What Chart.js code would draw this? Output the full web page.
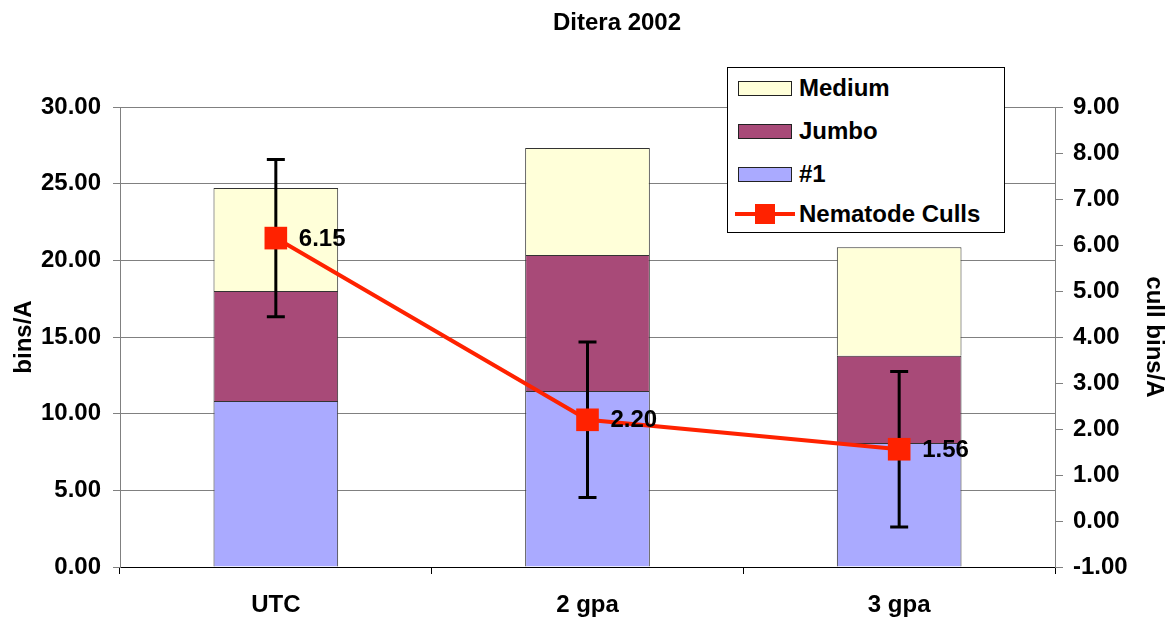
<!DOCTYPE html>
<html>
<head>
<meta charset="utf-8">
<script src="https://cdn.jsdelivr.net/npm/chart.js@4/dist/chart.umd.min.js"></script>
<style>
  html, body { margin: 0; padding: 0; background: #fff; }
  #wrap { position: relative; width: 1174px; height: 618px; }
  #legend {
    position: absolute; left: 727px; top: 67px; width: 276px; height: 164px;
    background: #fff; border: 1px solid #000;
    font: bold 24px "Liberation Sans", Arial, sans-serif; color: #000;
  }
  .row { position: absolute; left: 0; height: 30px; display: flex; align-items: center; }
  .sw { position: absolute; left: 10px; width: 52px; height: 13px; border: 1px solid #222; }
  .txt { position: absolute; left: 71px; white-space: nowrap; }
  .ln { position: absolute; left: 7px; top: 13px; width: 60px; height: 4px; background: #ff2200; }
  .mk { position: absolute; left: 27px; top: 5px; width: 20px; height: 20px; background: #ff2200; }
</style>
</head>
<body>
<div id="wrap">
  <canvas id="c" width="1174" height="618"></canvas>
  <div id="legend"></div>
</div>
<script>
// data
const categories = ["UTC", "2 gpa", "3 gpa"];
const no1 = [10.83, 11.48, 8.08];
const jumbo = [7.17, 8.87, 5.70];
const medium = [6.72, 6.98, 7.07];
const culls = [6.15, 2.20, 1.56];
const cullErr = [1.71, 1.69, 1.69];
const chartTitle = "Ditera 2002";

const FONT = "'Liberation Sans', Arial, sans-serif";
const RED = "#ff2200";

// error bars + value labels for the culls line, plus the title
const errPlugin = {
    id: "errbars",
    beforeDatasetDraw(chart, args) {
        if (args.index !== 3) return;
        const ctx = chart.ctx;
        const xs = chart.scales.x, ys = chart.scales.y2;
        ctx.save();
        ctx.strokeStyle = "#000";
        ctx.lineWidth = 3;
        culls.forEach((v, i) => {
            const x = xs.getPixelForValue(i);
            const top = ys.getPixelForValue(v + cullErr[i]);
            const bot = ys.getPixelForValue(v - cullErr[i]);
            ctx.beginPath();
            ctx.moveTo(x, top); ctx.lineTo(x, bot);
            ctx.moveTo(x - 9, top); ctx.lineTo(x + 9, top);
            ctx.moveTo(x - 9, bot); ctx.lineTo(x + 9, bot);
            ctx.stroke();
        });
        ctx.restore();
    },
    afterDatasetsDraw(chart) {
        const ctx = chart.ctx;
        const xs = chart.scales.x, ys = chart.scales.y2;
        ctx.save();
        ctx.font = "bold 24px " + FONT;
        ctx.fillStyle = "#000";
        ctx.textBaseline = "middle";
        culls.forEach((v, i) => {
            ctx.fillText(v.toFixed(2), xs.getPixelForValue(i) + 23, ys.getPixelForValue(v) + 1);
        });
        ctx.textAlign = "center";
        ctx.fillText(chartTitle, 617, 23);
        ctx.restore();
    }
};

new Chart(document.getElementById("c"), {
    type: "bar",
    data: {
        labels: categories,
        datasets: [
            { label: "#1", data: no1, backgroundColor: "#aaaaff", borderColor: "#333", borderWidth: 1, order: 1 },
            { label: "Jumbo", data: jumbo, backgroundColor: "#a84a78", borderColor: "#333", borderWidth: 1, order: 1 },
            { label: "Medium", data: medium, backgroundColor: "#ffffd9", borderColor: "#333", borderWidth: 1, order: 1 },
            {
                type: "line", label: "Nematode Culls", data: culls, yAxisID: "y2",
                borderColor: RED, backgroundColor: RED, borderWidth: 4,
                pointStyle: "rect", pointRadius: 16, pointBorderWidth: 0, order: 0
            }
        ]
    },
    options: {
        responsive: false,
        animation: false,
        barPercentage: 0.4,
        categoryPercentage: 1.0,
        layout: { padding: { top: 107, bottom: 0, left: 0, right: 0 } },
        plugins: {
            legend: { display: false },
            tooltip: { enabled: false },
            title: { display: false }
        },
        scales: {
            x: {
                stacked: true,
                offset: true,
                border: { color: "#000", width: 1 },
                grid: { offset: true, drawOnChartArea: false, drawTicks: true, tickLength: 7, color: "#000" },
                ticks: { color: "#000", font: { family: FONT, size: 24, weight: "bold" }, padding: 17 },
                afterFit: s => { s.height = 51; }
            },
            y: {
                stacked: true, min: 0, max: 30, position: "left",
                border: { color: "#808080", width: 1 },
                grid: { color: "#808080", tickLength: 7 },
                ticks: {
                    stepSize: 5, color: "#000", padding: 12,
                    font: { family: FONT, size: 24, weight: "bold" },
                    callback: v => v.toFixed(2)
                },
                title: {
                    display: true, text: "bins/A", color: "#000", padding: { top: 10, bottom: 0 },
                    font: { family: FONT, size: 24, weight: "bold" }
                },
                afterFit: s => { s.width = 120; }
            },
            y2: {
                min: -1, max: 9, position: "right",
                border: { color: "#808080", width: 1 },
                grid: { drawOnChartArea: false, color: "#808080", tickLength: 8 },
                ticks: {
                    stepSize: 1, color: "#000", padding: 10,
                    font: { family: FONT, size: 24, weight: "bold" },
                    callback: v => v.toFixed(2)
                },
                title: {
                    display: true, text: "cull bins/A", color: "#000", padding: { top: 6, bottom: 0 },
                    font: { family: FONT, size: 24, weight: "bold" }
                },
                afterFit: s => { s.width = 119; }
            }
        }
    },
    plugins: [errPlugin]
});

// legend box drawn over the plot like the original
const legendItems = [
    { name: "Medium", color: "#ffffd9" },
    { name: "Jumbo", color: "#a84a78" },
    { name: "#1", color: "#aaaaff" },
    { name: "Nematode Culls", line: true }
];
const lg = document.getElementById("legend");
const rowTops = [5, 48, 91, 131];
legendItems.forEach((it, i) => {
    const row = document.createElement("div");
    row.className = "row";
    row.style.top = rowTops[i] + "px";
    row.style.width = "276px";
    if (it.line) {
        row.innerHTML = '<div class="ln"></div><div class="mk"></div>';
    } else {
        row.innerHTML = '<div class="sw" style="top:8px;background:' + it.color + '"></div>';
    }
    const t = document.createElement("span");
    t.className = "txt";
    t.textContent = it.name;
    row.appendChild(t);
    lg.appendChild(row);
});
</script>
</body>
</html>
